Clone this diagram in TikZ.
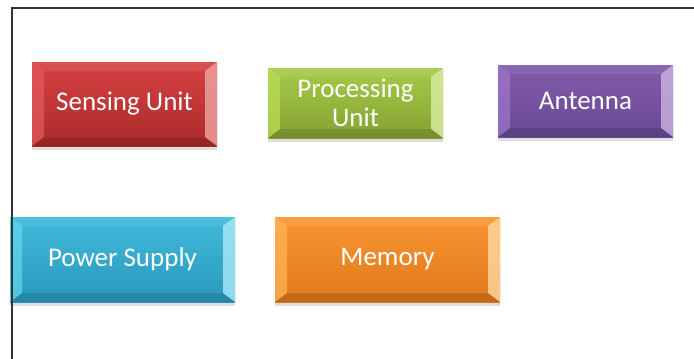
\documentclass[tikz,border=0pt]{standalone}
\usepackage{fontspec}
\setmainfont{Carlito}
\usepackage{tikz}
\usetikzlibrary{shadows}
\usetikzlibrary{positioning}

\definecolor{sensetop}{RGB}{214,66,66}
\definecolor{sensebot}{RGB}{172,42,42}
\definecolor{sensebev}{RGB}{226,92,92}
\definecolor{proctop}{RGB}{166,202,72}
\definecolor{procbot}{RGB}{132,162,50}
\definecolor{procbev}{RGB}{190,222,88}
\definecolor{anttop}{RGB}{130,92,172}
\definecolor{antbot}{RGB}{106,72,148}
\definecolor{antbev}{RGB}{160,120,205}
\definecolor{powtop}{RGB}{64,186,220}
\definecolor{powbot}{RGB}{42,152,187}
\definecolor{powbev}{RGB}{100,215,240}
\definecolor{memtop}{RGB}{250,150,50}
\definecolor{membot}{RGB}{222,120,28}
\definecolor{membev}{RGB}{255,185,85}

\newcommand{\unitfont}{\fontsize{27}{29}\selectfont}
\tikzset{
  bevelcol/.code={\def\bevelcol{#1}},
  unitbox/.style={rectangle, inner sep=0pt, text=white, font=\unitfont, align=center,
    drop shadow={shadow xshift=0pt, shadow yshift=-4pt, opacity=0.18, fill=black!70},
    path picture={
      \fill[\bevelcol, opacity=0.7] (path picture bounding box.north west)
        -- ([xshift=12pt,yshift=-9pt]path picture bounding box.north west)
        -- ([xshift=12pt,yshift=9pt]path picture bounding box.south west)
        -- (path picture bounding box.south west) -- cycle;
      \fill[\bevelcol!55!white, opacity=0.8] (path picture bounding box.north east)
        -- ([xshift=-12pt,yshift=-9pt]path picture bounding box.north east)
        -- ([xshift=-12pt,yshift=9pt]path picture bounding box.south east)
        -- (path picture bounding box.south east) -- cycle;
      \fill[white, opacity=0.08] (path picture bounding box.north west)
        -- ([xshift=12pt,yshift=-9pt]path picture bounding box.north west)
        -- ([xshift=-12pt,yshift=-9pt]path picture bounding box.north east)
        -- (path picture bounding box.north east) -- cycle;
      \fill[black, opacity=0.12] (path picture bounding box.south west)
        -- ([xshift=12pt,yshift=9pt]path picture bounding box.south west)
        -- ([xshift=-12pt,yshift=9pt]path picture bounding box.south east)
        -- (path picture bounding box.south east) -- cycle;
    }},
  frame/.style={draw=black!80, line width=1.4pt}
}

\begin{document}
\begin{tikzpicture}[x=1pt,y=-1pt]
  \useasboundingbox (0,0) rectangle (694,359);
  \fill[white] (0,0) rectangle (694,359);

  % top row
  \node[unitbox, bevelcol=sensebev, top color=sensetop, bottom color=sensebot,
    minimum width=185pt, minimum height=84pt] (su) at (124.5,104) {Sensing Unit};
  \node[unitbox, bevelcol=procbev, top color=proctop, bottom color=procbot,
    minimum width=175pt, minimum height=70pt] (pu) at (355.5,103) {Processing\\Unit};
  \node[unitbox, bevelcol=antbev, top color=anttop, bottom color=antbot,
    minimum width=175pt, minimum height=72pt] (an) at (585.5,101) {Antenna};

  % bottom row
  \node[unitbox, bevelcol=powbev, top color=powtop, bottom color=powbot,
    minimum width=225pt, minimum height=85pt] (ps) at (122.5,259.5) {Power Supply};
  \node[unitbox, bevelcol=membev, top color=memtop, bottom color=membot,
    minimum width=225pt, minimum height=85pt] (me) at (387.5,259.5) {Memory};

  % frame
  \coordinate (ftl) at (12,8);
  \coordinate (ftr) at (694,8);
  \coordinate (fbl) at (12,359);
  \draw[frame] (ftr) -- (ftl) -- (fbl);
\end{tikzpicture}
\end{document}
